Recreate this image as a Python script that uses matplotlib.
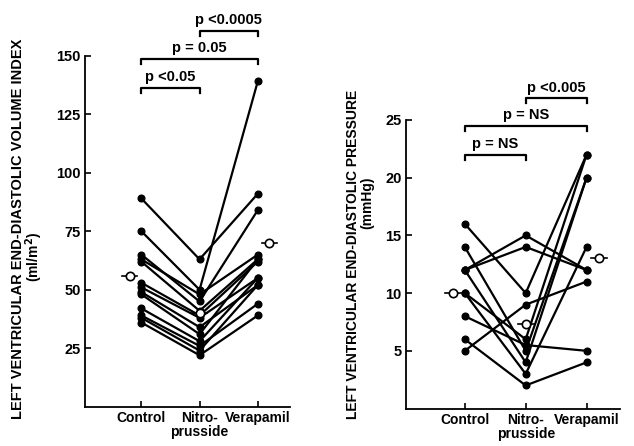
import matplotlib
matplotlib.use("Agg")
import matplotlib.pyplot as plt

plt.rcParams['font.family'] = ['Liberation Sans', 'DejaVu Sans']
plt.rcParams['font.weight'] = 'bold'

groups = ["Control", "Nitro-\nprusside", "Verapamil"]

# Left panel: end-diastolic volume index (ml/m2), one row per patient
vol_control = [89, 75, 65, 63, 62, 53, 51, 49, 48, 42, 39, 38, 36]
vol_nitro = [63, 50, 45, 48, 41, 39, 38, 34, 31, 28, 26, 24, 22]
vol_verapamil = [91, 139, 84, 65, 63, 62, 55, 52, 63, 55, 44, 52, 39]
vol_means = [56, 40, 70]

# Right panel: end-diastolic pressure (mmHg)
pr_control = [12, 12, 16, 5, 8, 6, 14, 10, 12, 10]
pr_nitro = [15, 14, 10, 9, 5.5, 2, 5, 3, 4, 6]
pr_verapamil = [12, 12, 22, 11, 5, 4, 20, 14, 20, 22]
pr_means = [10, 7.3, 13]

vol_brackets = [(0, 1, "p <0.05"), (0, 2, "p = 0.05"), (1, 2, "p <0.0005")]
pr_brackets = [(0, 1, "p = NS"), (0, 2, "p = NS"), (1, 2, "p <0.005")]

fig = plt.figure(figsize=(6.34, 4.46), dpi=100)
ax1 = fig.add_axes([0.134, 0.088, 0.323, 0.787])
ax2 = fig.add_axes([0.640, 0.084, 0.338, 0.647])


def draw_panel(ax, a, b, c, means, ylim, yticks, brackets, bracket_y, leg, text_dy):
    for row in zip(a, b, c):
        ax.plot([0, 1, 2], row, color="black", lw=1.6, marker="o", ms=4.8,
                clip_on=False, zorder=3)
    # group means, drawn as an open circle with a bar through it
    xm = [-0.2, 1, 2.2]
    for x, m in zip(xm, means):
        ax.plot([x - 0.13, x + 0.13], [m, m], color="black", lw=1.2, zorder=4,
                clip_on=False)
        ax.plot(x, m, marker="o", ms=6, mfc="white", mec="black", mew=1.2,
                zorder=5, clip_on=False)
    ax.set_ylim(*ylim)
    ax.set_xlim(-0.97, 2.55)
    ax.set_yticks(yticks)
    ax.set_yticklabels([str(t) for t in yticks], fontsize=10.5, fontweight="bold")
    ax.set_xticks([0, 1, 2])
    ax.set_xticklabels(groups, fontsize=10, fontweight="bold", linespacing=1.05)
    ax.tick_params(direction="in", length=4, width=1.2, pad=3)
    for s in ["top", "right"]:
        ax.spines[s].set_visible(False)
    for s in ["left", "bottom"]:
        ax.spines[s].set_linewidth(1.3)
    for (i, j, label), y in zip(brackets, bracket_y):
        ax.plot([i, i, j, j], [y - leg, y, y, y - leg], color="black", lw=1.6,
                clip_on=False)
        ax.text((i + j) / 2, y + text_dy, label, ha="center", va="bottom",
                fontsize=10.5, fontweight="bold")


draw_panel(ax1, vol_control, vol_nitro, vol_verapamil, vol_means, (0, 150),
           [25, 50, 75, 100, 125, 150], vol_brackets, [136.2, 148.6, 160.6],
           2.2, 1.8)
draw_panel(ax2, pr_control, pr_nitro, pr_verapamil, pr_means, (0, 25),
           [5, 10, 15, 20, 25], pr_brackets, [22.0, 24.5, 26.9], 0.45, 0.3)

fig.text(0.028, 0.486, "LEFT VENTRICULAR END-DIASTOLIC VOLUME INDEX",
         rotation=90, ha="center", va="center", fontsize=10.5, fontweight="bold")
fig.text(0.054, 0.424, "(ml/m$^\\mathbf{2}$)", rotation=90, ha="center",
         va="center", fontsize=10, fontweight="bold")
fig.text(0.556, 0.43, "LEFT VENTRICULAR END-DIASTOLIC PRESSURE",
         rotation=90, ha="center", va="center", fontsize=10, fontweight="bold")
fig.text(0.580, 0.545, "(mmHg)", rotation=90, ha="center", va="center",
         fontsize=10, fontweight="bold")

fig.savefig("out.png", dpi=100)
